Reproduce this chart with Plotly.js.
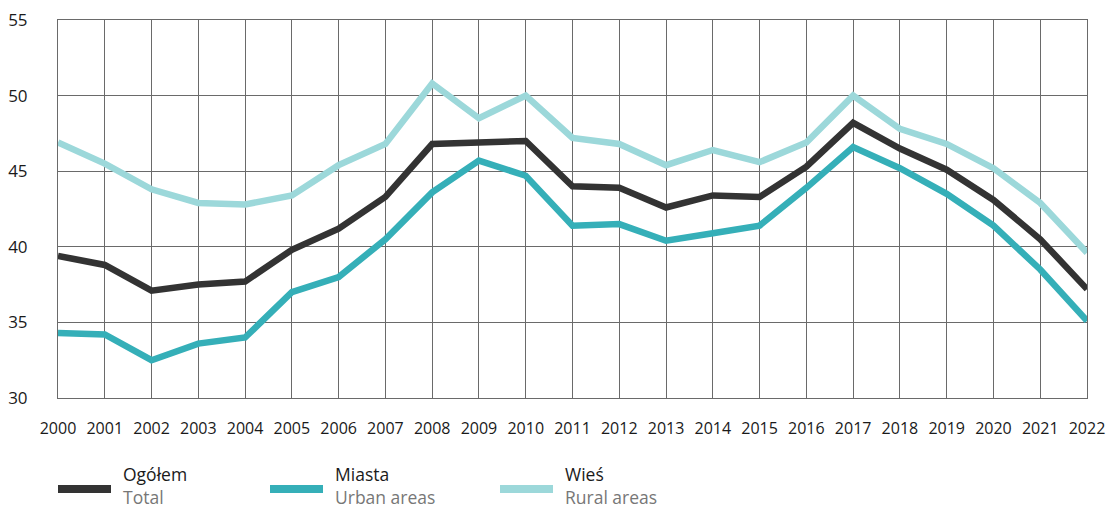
<!DOCTYPE html>
<html>
<head>
<meta charset="utf-8">
<script src="https://cdn.plot.ly/plotly-3.0.1.min.js"></script>
<style>html,body{margin:0;padding:0;background:#fff;}#chart{width:1107px;height:509px;}</style>
</head>
<body>
<div id="chart"></div>
<script>
const years = [2000,2001,2002,2003,2004,2005,2006,2007,2008,2009,2010,2011,2012,2013,2014,2015,2016,2017,2018,2019,2020,2021,2022];
const ogolem = [39.4,38.8,37.1,37.5,37.7,39.8,41.2,43.3,46.8,46.9,47.0,44.0,43.9,42.6,43.4,43.3,45.3,48.2,46.5,45.1,43.1,40.5,37.2];
const miasta = [34.3,34.2,32.5,33.6,34.0,37.0,38.0,40.5,43.6,45.7,44.7,41.4,41.5,40.4,40.9,41.4,43.9,46.6,45.2,43.5,41.4,38.5,35.1];
const wies   = [46.9,45.5,43.8,42.9,42.8,43.4,45.4,46.8,50.8,48.5,50.0,47.2,46.8,45.4,46.4,45.6,46.9,50.0,47.8,46.8,45.2,42.9,39.6];
const seriesPL = ["Ogółem","Miasta","Wieś"];
const seriesEN = ["Total","Urban areas","Rural areas"];
const colors = ["#333333","#35AFB8","#9CD8DA"];
const yTicks = [30,35,40,45,50,55];

const seriesData = [ogolem, miasta, wies];
const traces = seriesData.map((ys,i)=>({
  x: years, y: ys, type:'scatter', mode:'lines', name: seriesPL[i],
  line:{color:colors[i], width:6.5}, showlegend:false, hoverinfo:'skip'
}));
const ordered = [traces[2], traces[1], traces[0]];

const W=1107, H=509, L=58, R=20, T=20, B=111;
const pw = W-L-R, ph = H-T-B;
const px = x => (x-L)/pw;
const py = y => (H-B-y)/ph;

const legX = [58, 270, 500];
const shapes = [], annotations = [];
seriesPL.forEach((name,i)=>{
  shapes.push({type:'line', xref:'paper', yref:'paper', x0:px(legX[i]), x1:px(legX[i]+53), y0:py(489), y1:py(489),
    line:{color:colors[i], width:8}});
  annotations.push({xref:'paper', yref:'paper', x:px(legX[i]+64), y:py(485), xanchor:'left', yanchor:'middle',
    align:'left', showarrow:false, borderpad:0,
    text: name + '<br><span style="color:#777777">' + seriesEN[i] + '</span>',
    font:{family:'Open Sans, sans-serif', size:17.5, color:'#1a1a1a'}});
});

const layout = {
  width:W, height:H,
  margin:{l:L, r:R, t:T, b:B},
  paper_bgcolor:'#ffffff', plot_bgcolor:'#ffffff',
  showlegend:false,
  font:{family:'Open Sans, sans-serif', color:'#1a1a1a'},
  xaxis:{range:[2000,2022], tickvals:years, ticktext:years.map(String), showgrid:true, gridcolor:'#6a6a6a', gridwidth:1,
    showline:true, mirror:true, linecolor:'#6a6a6a', linewidth:1, zeroline:false, ticks:'', ticklabelstandoff:16,
    tickfont:{size:16, color:'#1a1a1a'}, fixedrange:true},
  yaxis:{range:[30,55], tickvals:yTicks, showgrid:true, gridcolor:'#6a6a6a', gridwidth:1,
    showline:true, mirror:true, linecolor:'#6a6a6a', linewidth:1, zeroline:false, ticks:'', ticklabelstandoff:26,
    tickfont:{size:17, color:'#1a1a1a'}, fixedrange:true},
  shapes: shapes, annotations: annotations
};
Plotly.newPlot('chart', ordered, layout, {displayModeBar:false, staticPlot:true});
</script>
</body>
</html>
